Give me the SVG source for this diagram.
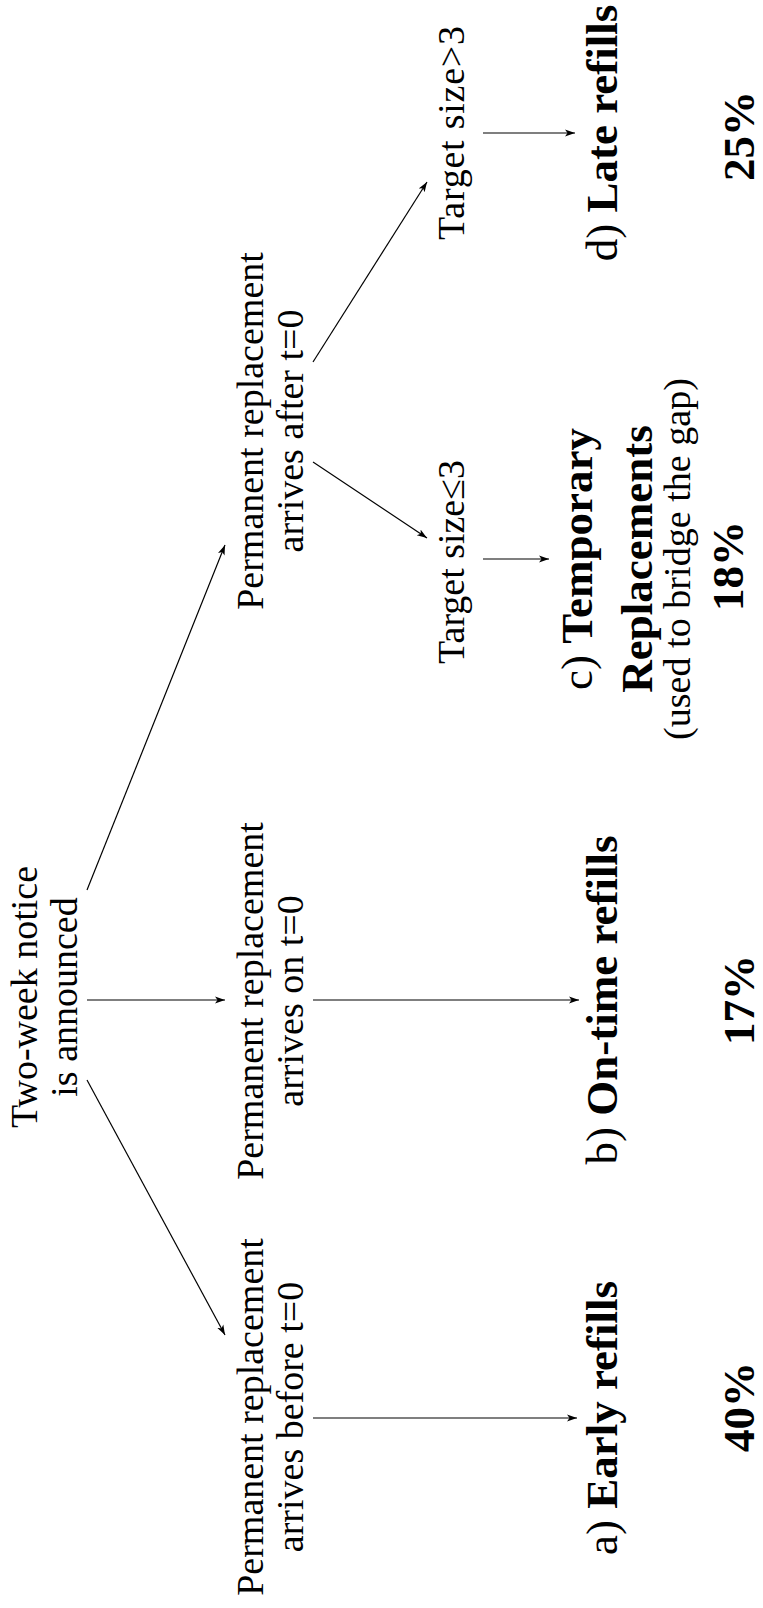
<svg xmlns="http://www.w3.org/2000/svg" width="763" height="1608" viewBox="0 0 763 1608">
<style>
text{font-family:"Liberation Serif","Times New Roman",serif;fill:#000;text-anchor:middle}
.r{font-size:38px}
.o{font-size:45px}
.b{font-weight:bold}
.c line{stroke:#000;stroke-width:1.2;marker-end:url(#ah)}
</style>
<defs>
<marker id="ah" markerUnits="userSpaceOnUse" markerWidth="12" markerHeight="10" viewBox="0 0 12 10" refX="10" refY="5" orient="auto">
<path d="M0,1.5 L10,5 L0,8.5 L2.5,5 Z" fill="#000"/>
</marker>
</defs>
<rect width="763" height="1608" fill="#fff"/>
<g id="connectors" class="c">
<line x1="87" y1="890" x2="225" y2="545"/>
<line x1="87" y1="1000" x2="225" y2="1000"/>
<line x1="87" y1="1080" x2="225" y2="1335"/>
<line x1="313" y1="362" x2="427" y2="182"/>
<line x1="313" y1="462" x2="427" y2="538"/>
<line x1="313" y1="1000" x2="579" y2="1000"/>
<line x1="313" y1="1418" x2="577" y2="1418"/>
<line x1="483" y1="133" x2="575" y2="133"/>
<line x1="483" y1="559" x2="549" y2="559"/>
</g>
<g id="root">
<text class="r" transform="translate(37,997) rotate(-90)">Two-week notice</text>
<text class="r" transform="translate(77,997) rotate(-90)">is announced</text>
</g>
<g id="after">
<text class="r" transform="translate(263,431) rotate(-90)">Permanent replacement</text>
<text class="r" transform="translate(303,431) rotate(-90)">arrives after t=0</text>
</g>
<g id="on">
<text class="r" transform="translate(263,1001) rotate(-90)">Permanent replacement</text>
<text class="r" transform="translate(303,1001) rotate(-90)">arrives on t=0</text>
</g>
<g id="before">
<text class="r" transform="translate(263,1417) rotate(-90)">Permanent replacement</text>
<text class="r" transform="translate(303,1417) rotate(-90)">arrives before t=0</text>
</g>
<g id="tgt-gt">
<text class="r" transform="translate(464,133) rotate(-90)" textLength="214" lengthAdjust="spacing">Target size&gt;3</text>
</g>
<g id="tgt-le">
<text class="r" transform="translate(464,562) rotate(-90)" textLength="204" lengthAdjust="spacing">Target size≤3</text>
</g>
<g id="late">
<text class="o" transform="translate(617,133) rotate(-90)">d) <tspan class="b">Late refills</tspan></text>
<text class="o b" transform="translate(754,136) rotate(-90)">25%</text>
</g>
<g id="temp">
<text class="o" transform="translate(592,559) rotate(-90)">c) <tspan class="b">Temporary</tspan></text>
<text class="o b" transform="translate(652,559) rotate(-90)">Replacements</text>
<text class="r" transform="translate(690,559) rotate(-90)" textLength="362" lengthAdjust="spacing">(used to bridge the gap)</text>
<text class="o b" transform="translate(743,566) rotate(-90)">18%</text>
</g>
<g id="ontime">
<text class="o" transform="translate(617,1000) rotate(-90)">b) <tspan class="b">On-time refills</tspan></text>
<text class="o b" transform="translate(754,1000) rotate(-90)">17%</text>
</g>
<g id="early">
<text class="o" transform="translate(617,1418) rotate(-90)">a) <tspan class="b">Early refills</tspan></text>
<text class="o b" transform="translate(754,1407) rotate(-90)">40%</text>
</g>
</svg>
